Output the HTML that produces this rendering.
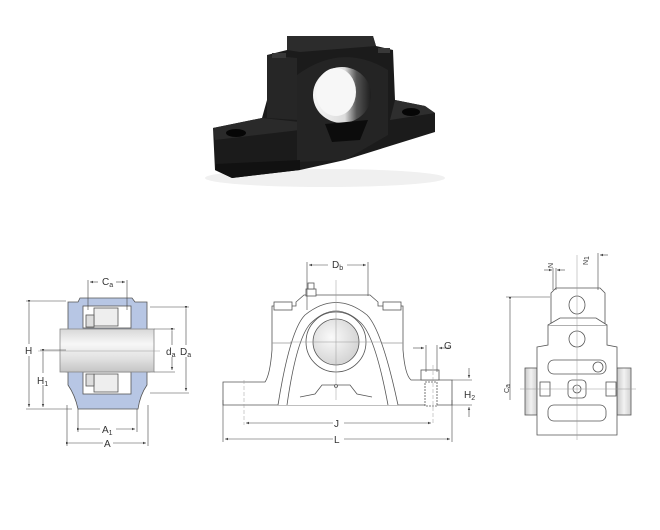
<!DOCTYPE html>
<html><head><meta charset="utf-8"><style>
html,body{margin:0;padding:0;background:#fff;}
svg{display:block;}
text{font-family:"Liberation Sans",sans-serif;fill:#333;}
</style></head><body>
<svg width="660" height="530" viewBox="0 0 660 530" xmlns="http://www.w3.org/2000/svg">
<defs>
<linearGradient id="shaft" x1="0" y1="0" x2="0" y2="1">
<stop offset="0" stop-color="#d8d8d8"/><stop offset="0.35" stop-color="#f7f7f7"/><stop offset="0.7" stop-color="#e0e0e0"/><stop offset="1" stop-color="#c4c4c4"/></linearGradient>
<linearGradient id="shaftv" x1="0" y1="0" x2="1" y2="0">
<stop offset="0" stop-color="#c8c8c8"/><stop offset="0.5" stop-color="#f2f2f2"/><stop offset="1" stop-color="#cfcfcf"/></linearGradient>
<radialGradient id="hub" cx="0.4" cy="0.4" r="0.7"><stop offset="0" stop-color="#fafafa"/><stop offset="1" stop-color="#cfcfcf"/></radialGradient>
<linearGradient id="bore" x1="0" y1="0" x2="1" y2="0"><stop offset="0" stop-color="#f6f6f6"/><stop offset="0.55" stop-color="#dcdcdc"/><stop offset="0.75" stop-color="#555"/><stop offset="1" stop-color="#1e1e1e"/></linearGradient>
<marker id="ar" markerWidth="6" markerHeight="6" refX="5" refY="3" orient="auto"><path d="M0,1 L5,3 L0,5 Z" fill="#444"/></marker>
</defs>

<!-- PHOTO -->
<g>
<ellipse cx="325" cy="178" rx="120" ry="9" fill="#f0f0f0"/>
<path d="M287,36 L373,36 L376,46 L393,50 L395,100 L425,106 L435,113 L435,132 L345,160 L300,170 L232,178 L215,170 L213,128 L262,118 L267,100 L267,55 L287,50 Z" fill="#1b1b1b"/>
<path d="M287,36 L373,36 L376,46 L300,52 L287,50 Z" fill="#2c2c2c"/>
<path d="M267,55 L297,58 L297,120 L267,118 Z" fill="#262626"/>
<path d="M213,128 L262,118 L300,122 L300,130 L215,140 Z" fill="#2a2a2a"/>
<path d="M395,100 L425,106 L435,113 L390,120 Z" fill="#2e2e2e"/>
<path d="M297,162 L297,75 Q342,42 388,70 L388,135 L345,160 Z" fill="#242424"/>
<ellipse cx="342" cy="95" rx="29" ry="28" fill="url(#bore)"/>
<ellipse cx="336" cy="92" rx="20" ry="24" fill="#f7f7f7"/>
<path d="M325,124 L368,120 L360,140 L332,142 Z" fill="#0c0c0c"/>
<ellipse cx="236" cy="133" rx="10" ry="4" fill="#060606"/>
<ellipse cx="411" cy="112" rx="9" ry="4" fill="#060606"/>
<rect x="272" y="53" width="14" height="5" fill="#383838"/>
<rect x="378" y="48" width="12" height="5" fill="#383838"/>
<path d="M215,170 L232,178 L300,170 L300,160 L216,164 Z" fill="#111"/>
</g>

<!-- LEFT VIEW -->
<g stroke="#555" stroke-width="0.8" fill="none">
<path d="M68,302 L78,302 L80,298 L132,298 L135,302 L147,302 L147,330 L150,330 L150,372 L147,372 L147,385 Q140,395 138,409 L78,409 Q75,395 68,385 L68,372 L66,372 L66,330 L68,330 Z" fill="#b7c6e4"/>
<rect x="83" y="306" width="48" height="22" fill="#fff"/>
<rect x="83" y="372" width="48" height="22" fill="#fff"/>
<rect x="94" y="308" width="24" height="18" fill="#eee"/>
<rect x="94" y="374" width="24" height="18" fill="#eee"/>
<rect x="86" y="315" width="8" height="12" fill="#ddd"/>
<rect x="86" y="374" width="8" height="12" fill="#ddd"/>
<rect x="60" y="329" width="94" height="43" fill="url(#shaft)" stroke="#888"/>
<line x1="38" y1="351" x2="160" y2="351" stroke="#999" stroke-width="0.5"/>
</g>
<g stroke="#444" stroke-width="0.6" fill="none">
<line x1="26" y1="301" x2="66" y2="301"/><line x1="26" y1="409" x2="72" y2="409"/>
<line x1="29" y1="303" x2="29" y2="407" marker-start="url(#ar)" marker-end="url(#ar)"/>
<line x1="40" y1="350" x2="66" y2="350"/>
<line x1="43" y1="352" x2="43" y2="407" marker-start="url(#ar)" marker-end="url(#ar)"/>
<line x1="88" y1="280" x2="88" y2="310"/><line x1="127" y1="280" x2="127" y2="310"/>
<line x1="90" y1="282" x2="98" y2="282" marker-end="url(#ar)" transform="rotate(180 94 282)"/>
<line x1="116" y1="282" x2="125" y2="282" marker-end="url(#ar)"/>
<line x1="154" y1="329" x2="175" y2="329"/><line x1="154" y1="372" x2="175" y2="372"/>
<line x1="172" y1="331" x2="172" y2="370" marker-start="url(#ar)" marker-end="url(#ar)"/>
<line x1="150" y1="307" x2="189" y2="307"/><line x1="150" y1="393" x2="189" y2="393"/>
<line x1="186" y1="309" x2="186" y2="391" marker-start="url(#ar)" marker-end="url(#ar)"/>
<line x1="78" y1="409" x2="78" y2="432"/><line x1="137" y1="409" x2="137" y2="432"/>
<line x1="80" y1="429" x2="135" y2="429" marker-start="url(#ar)" marker-end="url(#ar)"/>
<line x1="67" y1="405" x2="67" y2="446"/><line x1="148" y1="405" x2="148" y2="446"/>
<line x1="69" y1="443" x2="146" y2="443" marker-start="url(#ar)" marker-end="url(#ar)"/>
</g>
<g font-size="10">
<rect x="24" y="344" width="11" height="12" fill="#fff"/><text x="25" y="354">H</text>
<rect x="36" y="373" width="14" height="12" fill="#fff"/><text x="37" y="384">H<tspan font-size="7" dy="2">1</tspan></text>
<text x="102" y="285">C<tspan font-size="7" dy="2">a</tspan></text>
<rect x="165" y="345" width="14" height="12" fill="#fff"/><text x="166" y="355">d<tspan font-size="7" dy="2">a</tspan></text>
<rect x="179" y="345" width="16" height="12" fill="#fff"/><text x="180" y="355">D<tspan font-size="7" dy="2">a</tspan></text>
<rect x="100" y="423" width="16" height="12" fill="#fff"/><text x="102" y="433">A<tspan font-size="7" dy="2">1</tspan></text>
<rect x="103" y="437" width="10" height="12" fill="#fff"/><text x="104" y="447">A</text>
</g>

<!-- MIDDLE VIEW -->
<g stroke="#555" stroke-width="0.8" fill="#fff">
<path d="M223,382 L265,382 Q270,375 272,350 L272,306 L296,306 L296,302 L304,295 L370,295 L378,302 L378,306 L403,306 L403,350 Q405,375 411,380 L452,380 L452,405 L223,405 Z"/>
<line x1="272" y1="343" x2="403" y2="343" stroke="#999"/>
<path d="M278,405 Q290,330 305,315 Q336,290 367,315 Q382,330 398,405"/>
<path d="M287,405 Q297,335 312,322 Q336,300 360,322 Q375,335 388,405"/>
<path d="M300,397 L315,394 L322,385 L350,385 L357,394 L372,397" fill="none"/>
<circle cx="336" cy="342" r="30"/>
<circle cx="336" cy="342" r="23" fill="url(#hub)"/>
<rect x="274" y="302" width="18" height="8"/><rect x="383" y="302" width="18" height="8"/>
<rect x="306" y="289" width="10" height="7"/><rect x="308" y="283" width="6" height="6"/>
<rect x="421" y="370" width="18" height="10"/>
<rect x="425" y="382" width="12" height="24" stroke-dasharray="2,1"/>
<circle cx="336" cy="386" r="1.5"/>
</g>
<g stroke="#999" stroke-width="0.5">
<line x1="336" y1="280" x2="336" y2="400"/><line x1="290" y1="342" x2="382" y2="342"/>
<line x1="244" y1="380" x2="244" y2="425" stroke-dasharray="4,2"/>
<line x1="433" y1="365" x2="433" y2="425" stroke-dasharray="4,2"/>
</g>
<g stroke="#444" stroke-width="0.6" fill="none">
<line x1="307" y1="262" x2="307" y2="310"/><line x1="368" y1="262" x2="368" y2="296"/>
<line x1="309" y1="265" x2="328" y2="265" transform="rotate(180 318.5 265)" marker-end="url(#ar)"/>
<line x1="347" y1="265" x2="366" y2="265" marker-end="url(#ar)"/>
<line x1="246" y1="423" x2="333" y2="423" transform="rotate(180 289.5 423)" marker-end="url(#ar)"/>
<line x1="344" y1="423" x2="431" y2="423" marker-end="url(#ar)"/>
<line x1="223" y1="400" x2="223" y2="442"/><line x1="452" y1="400" x2="452" y2="442"/>
<line x1="225" y1="439" x2="333" y2="439" transform="rotate(180 279 439)" marker-end="url(#ar)"/>
<line x1="344" y1="439" x2="450" y2="439" marker-end="url(#ar)"/>
<line x1="426" y1="345" x2="426" y2="372"/><line x1="437" y1="345" x2="437" y2="372"/>
<line x1="413" y1="348" x2="424" y2="348" marker-end="url(#ar)"/>
<line x1="450" y1="348" x2="439" y2="348" marker-end="url(#ar)"/>
<line x1="452" y1="380" x2="472" y2="380"/><line x1="452" y1="405" x2="472" y2="405"/>
<line x1="469" y1="368" x2="469" y2="378" marker-end="url(#ar)"/>
<line x1="469" y1="417" x2="469" y2="407" marker-end="url(#ar)"/>
</g>
<g font-size="10">
<text x="332" y="268">D<tspan font-size="7" dy="2">b</tspan></text>
<text x="444" y="349">G</text>
<text x="464" y="398">H<tspan font-size="7" dy="2">2</tspan></text>
<rect x="333" y="417" width="10" height="12" fill="#fff"/><text x="334" y="427">J</text>
<rect x="333" y="433" width="10" height="12" fill="#fff"/><text x="334" y="443">L</text>
</g>

<!-- RIGHT VIEW -->
<g stroke="#555" stroke-width="0.8" fill="#fff">
<rect x="525" y="368" width="12" height="47" fill="url(#shaftv)"/>
<rect x="617" y="368" width="14" height="47" fill="url(#shaftv)"/>
<path d="M537,347 L548,345 L548,325 L607,325 L607,345 L617,347 L617,435 L537,435 Z"/>
<path d="M551,293 L556,288 L600,288 L605,293 L605,325 L551,325 Z"/>
<ellipse cx="577" cy="305" rx="8" ry="9"/>
<path d="M548,325 L560,318 L596,318 L607,325"/>
<circle cx="577" cy="339" r="8"/>
<rect x="548" y="360" width="58" height="14" rx="6"/>
<circle cx="598" cy="367" r="5"/>
<rect x="548" y="405" width="58" height="16" rx="6"/>
<rect x="568" y="380" width="18" height="18" rx="4"/>
<circle cx="577" cy="389" r="4"/>
<rect x="540" y="382" width="10" height="14"/><rect x="606" y="382" width="10" height="14"/>
</g>
<g stroke="#999" stroke-width="0.5">
<line x1="577" y1="255" x2="577" y2="440"/><line x1="520" y1="389" x2="636" y2="389"/>
</g>
<g stroke="#444" stroke-width="0.6" fill="none">
<line x1="506" y1="297" x2="550" y2="297"/>
<line x1="510" y1="300" x2="510" y2="400" marker-start="url(#ar)"/>
<line x1="553" y1="268" x2="553" y2="290"/><line x1="556" y1="268" x2="556" y2="290"/>
<line x1="544" y1="270" x2="552" y2="270" marker-end="url(#ar)"/>
<line x1="565" y1="270" x2="557" y2="270" marker-end="url(#ar)"/>
<line x1="598" y1="253" x2="598" y2="290"/>
<line x1="608" y1="255" x2="600" y2="255" marker-end="url(#ar)"/>
</g>
<g font-size="7">
<text transform="translate(509,393) rotate(-90)">C<tspan dy="1">a</tspan></text>
<text transform="translate(553,268) rotate(-90)">N</text>
<text transform="translate(588,265) rotate(-90)">N<tspan dy="1">1</tspan></text>
</g>
</svg>
</body></html>
